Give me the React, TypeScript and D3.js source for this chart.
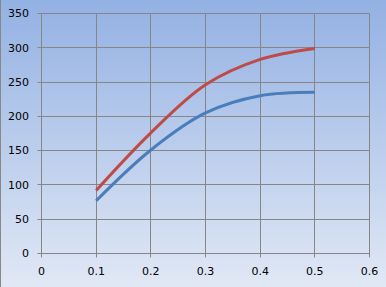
import React from "react";
import * as d3 from "d3";

const xValues = [0.1, 0.2, 0.3, 0.4, 0.5];
const redSeries = [92, 176, 246, 283, 299];
const blueSeries = [77, 151, 205, 230, 235];
const xTicks = [0, 0.1, 0.2, 0.3, 0.4, 0.5, 0.6];
const yTicks = [0, 50, 100, 150, 200, 250, 300, 350];

const W = 386;
const H = 287;
const left = 41.5;
const right = 369.5;
const top = 13.5;
const bottom = 253.5;

export default function App() {
  const x = d3.scaleLinear().domain([0, 0.6]).range([left, right]);
  const y = d3.scaleLinear().domain([0, 350]).range([bottom, top]);
  const line = d3
    .line<number>()
    .x((_, i) => x(xValues[i]))
    .y((d) => y(d))
    .curve(d3.curveCatmullRom.alpha(0.5));
  const font = "'DejaVu Sans', Verdana, sans-serif";
  const cy = (t: number) => Math.floor(y(t)) + 0.5;
  const cx = (t: number) => Math.floor(x(t)) + 0.5;
  return (
    <svg
      width={W}
      height={H}
      style={{ position: "fixed", left: 0, top: 0, display: "block" }}
    >
      <defs>
        <linearGradient id="bg" x1="0" y1="0" x2="0" y2="1">
          <stop offset="0" stopColor="#93b1e3" />
          <stop offset="1" stopColor="#e1e8f5" />
        </linearGradient>
      </defs>
      <rect x={0} y={0} width={W} height={H} fill="url(#bg)" />
      <line x1={0.5} y1={0} x2={0.5} y2={H} stroke="#888" />
      {yTicks.map((t) => (
        <line
          key={"gy" + t}
          x1={cx(0) - 4}
          x2={cx(0.6)}
          y1={cy(t)}
          y2={cy(t)}
          stroke="#868686"
          strokeWidth={1}
        />
      ))}
      {xTicks.map((t) => (
        <line
          key={"gx" + t}
          x1={cx(t)}
          x2={cx(t)}
          y1={cy(350)}
          y2={cy(0) + 4}
          stroke="#868686"
          strokeWidth={1}
        />
      ))}
      {yTicks.map((t) => (
        <text
          key={"ly" + t}
          x={29}
          y={y(t)}
          dy="0.35em"
          textAnchor="end"
          fontFamily={font}
          fontSize={11}
          fill="#000"
        >
          {t}
        </text>
      ))}
      {xTicks.map((t) => (
        <text
          key={"lx" + t}
          x={x(t)}
          y={271}
          dy="0.35em"
          textAnchor="middle"
          fontFamily={font}
          fontSize={11}
          fill="#000"
        >
          {t}
        </text>
      ))}
      <path
        d={line(blueSeries) || ""}
        fill="none"
        stroke="#4a7ebb"
        strokeWidth={3}
      />
      <path
        d={line(redSeries) || ""}
        fill="none"
        stroke="#be4b48"
        strokeWidth={3}
      />
    </svg>
  );
}
